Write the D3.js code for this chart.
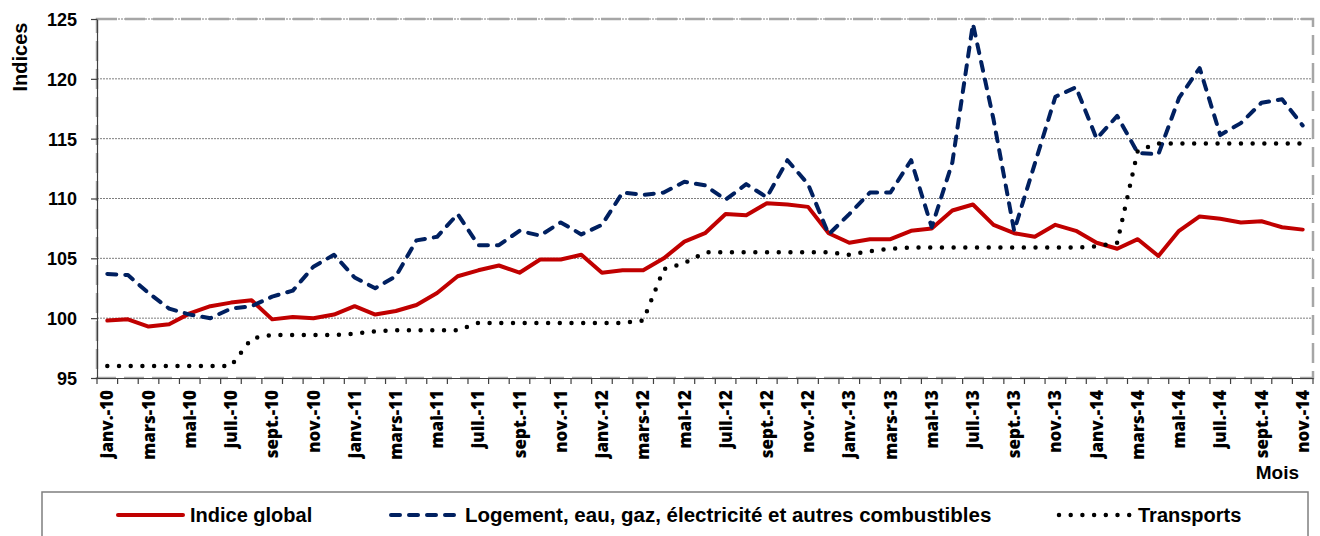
<!DOCTYPE html>
<html>
<head>
<meta charset="utf-8">
<title>Indices</title>
<script src="https://d3js.org/d3.v7.min.js"></script>
<style>
    body { margin: 0; background: #fff; }
    svg text { font-family: Arial, "Liberation Sans", sans-serif; font-weight: bold; fill: #000; }
</style>
</head>
<body>
<div id="chart"></div>
<script>
// Months (categories)
var mois = [
    "janv.-10","févr.-10","mars-10","avr.-10","mai-10","juin-10","juil.-10","août-10","sept.-10","oct.-10","nov.-10","déc.-10",
    "janv.-11","févr.-11","mars-11","avr.-11","mai-11","juin-11","juil.-11","août-11","sept.-11","oct.-11","nov.-11","déc.-11",
    "janv.-12","févr.-12","mars-12","avr.-12","mai-12","juin-12","juil.-12","août-12","sept.-12","oct.-12","nov.-12","déc.-12",
    "janv.-13","févr.-13","mars-13","avr.-13","mai-13","juin-13","juil.-13","août-13","sept.-13","oct.-13","nov.-13","déc.-13",
    "janv.-14","févr.-14","mars-14","avr.-14","mai-14","juin-14","juil.-14","août-14","sept.-14","oct.-14","nov.-14"
];

// Labels shown on the x axis (every other month)
var moisAffiches = [
    "janv.-10","mars-10","mai-10","juil.-10","sept.-10","nov.-10",
    "janv.-11","mars-11","mai-11","juil.-11","sept.-11","nov.-11",
    "janv.-12","mars-12","mai-12","juil.-12","sept.-12","nov.-12",
    "janv.-13","mars-13","mai-13","juil.-13","sept.-13","nov.-13",
    "janv.-14","mars-14","mai-14","juil.-14","sept.-14","nov.-14"
];

// Series values
var indiceGlobal = [
    99.8, 99.9, 99.3, 99.5, 100.4, 101.0, 101.3, 101.5, 99.9, 100.1, 100.0, 100.3,
    101.0, 100.3, 100.6, 101.1, 102.1, 103.5, 104.0, 104.4, 103.8, 104.9, 104.9, 105.3,
    103.8, 104.0, 104.0, 105.0, 106.4, 107.1, 108.7, 108.6, 109.6, 109.5, 109.3, 107.1,
    106.3, 106.6, 106.6, 107.3, 107.5, 109.0, 109.5, 107.8, 107.1, 106.8, 107.8, 107.3,
    106.3, 105.8, 106.6, 105.2, 107.3, 108.5, 108.3, 108.0, 108.1, 107.6, 107.4
];

var logement = [
    103.7, 103.6, 102.1, 100.8, 100.3, 100.0, 100.8, 101.0, 101.8, 102.3, 104.3, 105.3,
    103.4, 102.5, 103.5, 106.5, 106.8, 108.7, 106.1, 106.1, 107.3, 106.9, 108.0, 107.0,
    107.8, 110.5, 110.3, 110.5, 111.4, 111.1, 109.9, 111.2, 110.1, 113.2, 111.2, 107.0,
    108.7, 110.5, 110.5, 113.2, 107.6, 113.0, 124.6, 116.6, 107.3, 112.9, 118.5, 119.3,
    115.0, 116.9, 113.8, 113.7, 118.4, 120.9, 115.3, 116.3, 118.0, 118.3, 116.1
];

var transports = [
    96.0, 96.0, 96.0, 96.0, 96.0, 96.0, 96.0, 98.3, 98.6, 98.6, 98.6, 98.6,
    98.7, 98.9, 99.0, 99.0, 99.0, 99.0, 99.6, 99.6, 99.6, 99.6, 99.6, 99.6,
    99.6, 99.6, 99.8, 104.1, 104.6, 105.5, 105.5, 105.5, 105.5, 105.5, 105.5, 105.5,
    105.3, 105.6, 105.8, 105.9, 105.9, 105.9, 105.9, 105.9, 105.9, 105.9, 105.9, 105.9,
    106.0, 106.3, 114.0, 114.6, 114.6, 114.6, 114.6, 114.6, 114.6, 114.6, 114.6
];

var yTicks = [95, 100, 105, 110, 115, 120, 125];

var series = [
    { nom: "Indice global", valeurs: indiceGlobal, couleur: "#c00000", dash: null },
    { nom: "Logement, eau, gaz, électricité et autres combustibles", valeurs: logement, couleur: "#002060", dash: "9,9" },
    { nom: "Transports", valeurs: transports, couleur: "#000000", dash: "0,11.7" }
];

var width = 1320, height = 536;
var plotLeft = 97, plotRight = 1313, plotTop = 19, plotBottom = 378;

var svg = d3.select("#chart").append("svg")
    .attr("width", width)
    .attr("height", height);

var x = d3.scaleBand().domain(mois).range([plotLeft, plotRight]);
var y = d3.scaleLinear().domain([95, 125]).range([plotBottom, plotTop]);
var cx = function(d) { return x(d) + x.bandwidth() / 2; };

// gridlines
svg.append("g").selectAll("line")
    .data(yTicks.slice(1))
    .enter().append("line")
    .attr("x1", plotLeft).attr("x2", plotRight)
    .attr("y1", function(d) { return y(d); })
    .attr("y2", function(d) { return y(d); })
    .attr("stroke", "#7f7f7f")
    .attr("stroke-width", 1)
    .attr("stroke-dasharray", "2,1");

// plot border (dashed gray)
svg.append("rect")
    .attr("x", plotLeft).attr("y", plotTop)
    .attr("width", plotRight - plotLeft).attr("height", plotBottom - plotTop)
    .attr("fill", "none")
    .attr("stroke", "#a6a6a6")
    .attr("stroke-width", 2.5)
    .attr("stroke-dasharray", "20,8");

// y axis
var yAxis = svg.append("g")
    .attr("transform", "translate(" + plotLeft + ",0)")
    .call(d3.axisLeft(y).tickValues(yTicks).tickSize(6).tickPadding(14).tickSizeOuter(0));
yAxis.select(".domain").attr("stroke", "#404040").attr("stroke-width", 1.2);
yAxis.selectAll(".tick line").attr("stroke", "#404040").attr("stroke-width", 1.2);
yAxis.selectAll("text").style("font-size", "18px").attr("dy", "0.36em");

// x axis
var xAxis = svg.append("g")
    .attr("transform", "translate(0," + plotBottom + ")")
    .call(d3.axisBottom(x).tickValues(moisAffiches).tickSize(0).tickSizeOuter(0));
xAxis.select(".domain").attr("stroke", "#404040").attr("stroke-width", 1.2);
xAxis.selectAll("text")
    .style("font-family", "'Open Sans', sans-serif")
    .style("font-weight", "800")
    .style("font-size", "17px")
    .attr("y", 0)
    .attr("x", -12)
    .attr("dy", "0.36em")
    .attr("transform", "rotate(-90)")
    .style("text-anchor", "end");

// x tick marks at month boundaries
svg.append("g").selectAll("line")
    .data(mois.concat(["fin"]))
    .enter().append("line")
    .attr("x1", function(d) { return d === "fin" ? plotRight : x(d); })
    .attr("x2", function(d) { return d === "fin" ? plotRight : x(d); })
    .attr("y1", plotBottom).attr("y2", plotBottom + 6)
    .attr("stroke", "#404040")
    .attr("stroke-width", 1.2);

// lines
var line = d3.line()
    .x(function(d, i) { return cx(mois[i]); })
    .y(function(d) { return y(d); });

svg.append("g").selectAll("path")
    .data(series)
    .enter().append("path")
    .attr("d", function(s) { return line(s.valeurs); })
    .attr("fill", "none")
    .attr("stroke", function(s) { return s.couleur; })
    .attr("stroke-width", function(s) { return s.dash === "0,11.7" ? 4.5 : 4; })
    .attr("stroke-dasharray", function(s) { return s.dash; })
    .attr("stroke-linecap", "round")
    .attr("stroke-linejoin", "round");

// axis titles
svg.append("text")
    .attr("transform", "translate(27,57) rotate(-90)")
    .attr("text-anchor", "middle")
    .style("font-size", "20px")
    .text("Indices");

svg.append("text")
    .attr("x", 1299).attr("y", 479)
    .attr("text-anchor", "end")
    .style("font-size", "19px")
    .text("Mois");

// legend
svg.append("rect")
    .attr("x", 42).attr("y", 492)
    .attr("width", 1266).attr("height", 80)
    .attr("fill", "#fff")
    .attr("stroke", "#7f7f7f")
    .attr("stroke-width", 1.5);

var legendPos = [
    { x1: 118, x2: 183, tx: 190, fs: 20 },
    { x1: 391, x2: 456, tx: 465, fs: 20.5 },
    { x1: 1059, x2: 1131, tx: 1138, fs: 20 }
];

var leg = svg.append("g").selectAll("g")
    .data(series)
    .enter().append("g");

leg.append("line")
    .attr("x1", function(s, i) { return legendPos[i].x1; })
    .attr("x2", function(s, i) { return legendPos[i].x2; })
    .attr("y1", 515).attr("y2", 515)
    .attr("stroke", function(s) { return s.couleur; })
    .attr("stroke-width", function(s) { return s.dash === "0,11.7" ? 4.5 : 4; })
    .attr("stroke-dasharray", function(s) { return s.dash; })
    .attr("stroke-linecap", "round");

leg.append("text")
    .attr("x", function(s, i) { return legendPos[i].tx; })
    .attr("y", 522)
    .style("font-size", function(s, i) { return legendPos[i].fs + "px"; })
    .text(function(s) { return s.nom; });
</script>
</body>
</html>
